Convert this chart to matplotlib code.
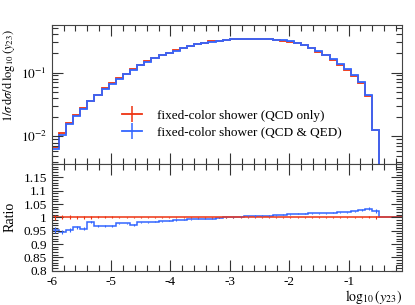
import numpy as np
import matplotlib
matplotlib.use("Agg")
import matplotlib.pyplot as plt
from matplotlib.lines import Line2D
from matplotlib.ticker import MultipleLocator, FixedLocator, LogLocator, NullFormatter, FuncFormatter

# ---------------- data ----------------
bin_lo, bin_hi, n_bins = -6.0, 0.0, 50
edges = np.linspace(bin_lo, bin_hi, n_bins + 1)

# 1/sigma dsigma/dlog10(y23) for QCD & QED shower (blue), first 46 bins (rest empty)
qed_vals = [0.0064, 0.0106, 0.0156, 0.0206, 0.0268, 0.0352, 0.0437, 0.0543, 0.066, 0.079,
            0.094, 0.110, 0.129, 0.147, 0.166, 0.187, 0.203, 0.221, 0.240, 0.261,
            0.278, 0.291, 0.305, 0.316, 0.324, 0.331, 0.335, 0.337, 0.337, 0.335,
            0.331, 0.325, 0.317, 0.306, 0.291, 0.271, 0.245, 0.215, 0.189, 0.162,
            0.135, 0.113, 0.0898, 0.0698, 0.0438, 0.0127]

# ratio (QCD & QED) / (QCD only)
ratio_vals = [0.952, 0.946, 0.952, 0.962, 0.957, 0.982, 0.967, 0.966, 0.968, 0.977,
              0.977, 0.972, 0.981, 0.981, 0.984, 0.986, 0.988, 0.990, 0.991, 0.993,
              0.994, 0.995, 0.995, 0.998, 1.000, 1.001, 1.003, 1.004, 1.005, 1.006,
              1.006, 1.008, 1.010, 1.012, 1.014, 1.014, 1.015, 1.015, 1.016, 1.018,
              1.019, 1.019, 1.022, 1.028, 1.033, 1.024]

# relative statistical uncertainty per bin
rel_err = [0.010, 0.008, 0.007, 0.006, 0.005, 0.005, 0.004, 0.004, 0.004, 0.003,
           0.003, 0.003, 0.003, 0.002, 0.002, 0.002, 0.002, 0.002, 0.002, 0.002,
           0.002, 0.002, 0.002, 0.002, 0.002, 0.002, 0.002, 0.002, 0.002, 0.002,
           0.002, 0.002, 0.002, 0.002, 0.002, 0.002, 0.002, 0.002, 0.002, 0.002,
           0.002, 0.002, 0.003, 0.003, 0.004, 0.006]

labels = ["fixed-color shower (QCD only)", "fixed-color shower (QCD & QED)"]
ratio_ticks = [0.8, 0.85, 0.9, 0.95, 1.0, 1.05, 1.1, 1.15]

# ---------------- derived ----------------
n_filled = len(qed_vals)
qed = np.zeros(n_bins); qed[:n_filled] = qed_vals
ratio = np.ones(n_bins); ratio[:n_filled] = ratio_vals
qcd = np.zeros(n_bins); qcd[:n_filled] = np.array(qed_vals) / np.array(ratio_vals)
err = np.zeros(n_bins); err[:n_filled] = rel_err
centers = 0.5 * (edges[:-1] + edges[1:])

RED = "#EE3311"
BLUE = "#3366FF"

plt.rcParams.update({
    "font.family": ["Liberation Serif", "DejaVu Serif"],
    "mathtext.fontset": "stix",
    "axes.unicode_minus": False,
    "font.size": 9.5,
})

fig = plt.figure(figsize=(4.15, 3.05), dpi=100)
L, R = 51.7 / 415, 402 / 415
top_main, bot_main, bot_ratio = 1 - 24.7 / 305, 1 - 164 / 305, 1 - 270.7 / 305
ax = fig.add_axes([L, bot_main, R - L, top_main - bot_main])
axr = fig.add_axes([L, bot_ratio, R - L, bot_main - bot_ratio], sharex=ax)

# main panel
ax.set_yscale("log", nonpositive="clip")
ax.stairs(qcd, edges, color=RED, lw=1.3, baseline=None)
ax.stairs(qed, edges, color=BLUE, lw=1.3, baseline=None)
ax.set_xlim(-6, -0.1)
ax.set_ylim(0.0037, 0.56)

# ratio panel
axr.stairs(ratio, edges, color=BLUE, lw=1.1, baseline=None)
axr.errorbar(centers[:n_filled], ratio[:n_filled], yerr=err[:n_filled], fmt="none",
             ecolor=BLUE, elinewidth=0.8)
axr.stairs(np.ones(n_bins), edges, color=RED, lw=1.1, baseline=None)
axr.errorbar(centers[:n_filled], np.ones(n_filled), yerr=err[:n_filled], fmt="none",
             ecolor=RED, elinewidth=0.8)
axr.set_ylim(0.8, 1.2)

# ticks
for a in (ax, axr):
    a.tick_params(which="both", direction="in", top=True, right=True, colors="#333333",
                  labelcolor="black", width=0.8)
    a.tick_params(which="major", length=8)
    a.tick_params(which="minor", length=4)
    a.xaxis.set_major_locator(MultipleLocator(1))
    a.xaxis.set_minor_locator(MultipleLocator(0.2))
    for s in a.spines.values():
        s.set_color("#444444")
        s.set_linewidth(0.8)

ax.yaxis.set_major_locator(LogLocator(base=10, numticks=10))
ax.yaxis.set_minor_locator(LogLocator(base=10, subs=np.arange(2, 10), numticks=20))
ax.yaxis.set_minor_formatter(NullFormatter())
ax.yaxis.set_major_formatter(FuncFormatter(lambda v, p: r"$10^{%d}$" % int(round(np.log10(v)))))
plt.setp(ax.get_xticklabels(), visible=False)

axr.yaxis.set_major_locator(FixedLocator(ratio_ticks))
axr.yaxis.set_minor_locator(MultipleLocator(0.01))
axr.yaxis.set_major_formatter(FuncFormatter(lambda v, p: "%g" % round(v, 2)))
axr.xaxis.set_major_formatter(FuncFormatter(lambda v, p: "%d" % round(v)))

ax.set_ylabel(r"$1/\sigma\,\mathrm{d}\sigma/\mathrm{d}\,\log_{10}(y_{23})$", fontsize=9)
axr.set_ylabel("Ratio", fontsize=10)
axr.set_xlabel(r"$\log_{10}(y_{23})$", fontsize=10, loc="right", va="top")
ax.yaxis.set_label_coords((17 - 51.7) / 350.3, (164 - 76) / 139.3)
axr.yaxis.set_label_coords((17 - 51.7) / 350.3, 0.5)
axr.xaxis.set_label_coords(1.0, -(288.5 - 270.7) / 106.7)

# legend
handles = [Line2D([], [], color=RED, lw=1.3, marker="|", markersize=11, markeredgewidth=1.1),
           Line2D([], [], color=BLUE, lw=1.3, marker="|", markersize=11, markeredgewidth=1.1)]
fig.legend(handles, labels, loc="center left", bbox_to_anchor=(122 / 415, 1 - 124 / 305),
           frameon=False, fontsize=9.5, handlelength=1.55, handletextpad=1.1,
           borderpad=0, borderaxespad=0, labelspacing=0.3)

fig.savefig("out.png", dpi=100)
